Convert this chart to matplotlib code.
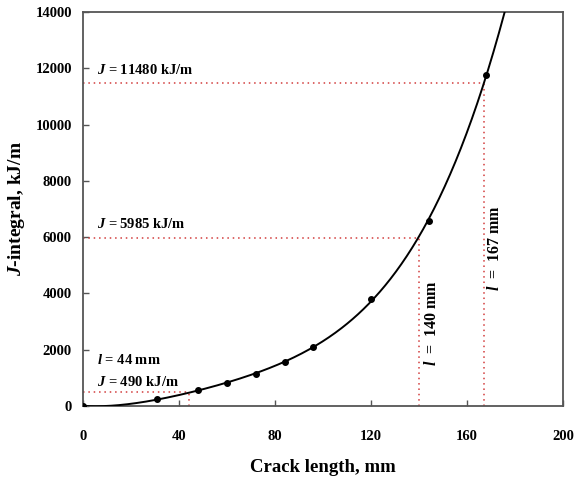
import numpy as np
import matplotlib
matplotlib.use("Agg")
import matplotlib.pyplot as plt

# data
crack_mm = [0, 31, 48, 60, 72, 84, 96, 120, 144, 168]
j_integral = [0, 250, 570, 817, 1137, 1560, 2100, 3800, 6570, 11760]

# marked levels (crack length, J)
mark_l = [44, 140, 167]
mark_j = [490, 5985, 11480]

plt.rcParams['font.family'] = ['Liberation Serif', 'DejaVu Serif']
plt.rcParams['font.weight'] = 'bold'
plt.rcParams['mathtext.fontset'] = 'custom'
plt.rcParams['mathtext.it'] = 'Liberation Serif:italic:bold'
plt.rcParams['mathtext.rm'] = 'Liberation Serif:bold'

fig = plt.figure(figsize=(5.74, 4.86), dpi=100)
ax = fig.add_axes([0.1446, 0.1646, 0.8364, 0.8107])

# smooth fitted curve through the points
coef = np.polyfit(crack_mm, j_integral, 4)
xs = np.linspace(0, 180, 400)
ax.plot(xs, np.polyval(coef, xs), color='black', lw=1.4, zorder=3)
ax.plot(crack_mm, j_integral, 'o', color='black', ms=4, zorder=4)

red = '#d23c3c'
for l, j in zip(mark_l, mark_j):
    ax.plot([0, l], [j, j], ls=(0, (1, 2.5)), color=red, lw=1.1, zorder=2)
    ax.plot([l, l], [0, j], ls=(0, (1, 2.5)), color=red, lw=1.1, zorder=2)

fs = 10.5
ax.text(6, 11950, r"$J$ = 11480 kJ/m", fontsize=fs, va='center')
ax.text(6, 6450, r"$J$ = 5985 kJ/m", fontsize=fs, va='center')
ax.text(6, 1640, r"$l$ = 44 mm", fontsize=fs, va='center')
ax.text(6, 860, r"$J$ = 490 kJ/m", fontsize=fs, va='center')
ax.text(145.4, 2950, r"$l$  =  140 mm", fontsize=11.5, rotation=90, ha='center', va='center')
ax.text(171.7, 5610, r"$l$  =  167 mm", fontsize=11.5, rotation=90, ha='center', va='center')

ax.set_xlim(0, 200)
ax.set_ylim(0, 14000)
ax.set_xticks(np.arange(0, 201, 40))
ax.set_yticks(np.arange(0, 14001, 2000))
ax.tick_params(direction='in', length=4, width=1, labelsize=10.5, color='#555555')
ax.tick_params(axis='x', pad=17)
ax.tick_params(axis='y', pad=8)
for lab in ax.get_xticklabels() + ax.get_yticklabels():
    lab.set_fontweight('bold')
for s in ax.spines.values():
    s.set_color('#555555')
    s.set_linewidth(1.3)

ax.set_xlabel("Crack length, mm", fontsize=13.5, fontweight='bold', labelpad=12)
ax.set_ylabel(r"$J$-integral, kJ/m", fontsize=14, fontweight='bold', labelpad=6)

fig.savefig("out.png", dpi=100)
